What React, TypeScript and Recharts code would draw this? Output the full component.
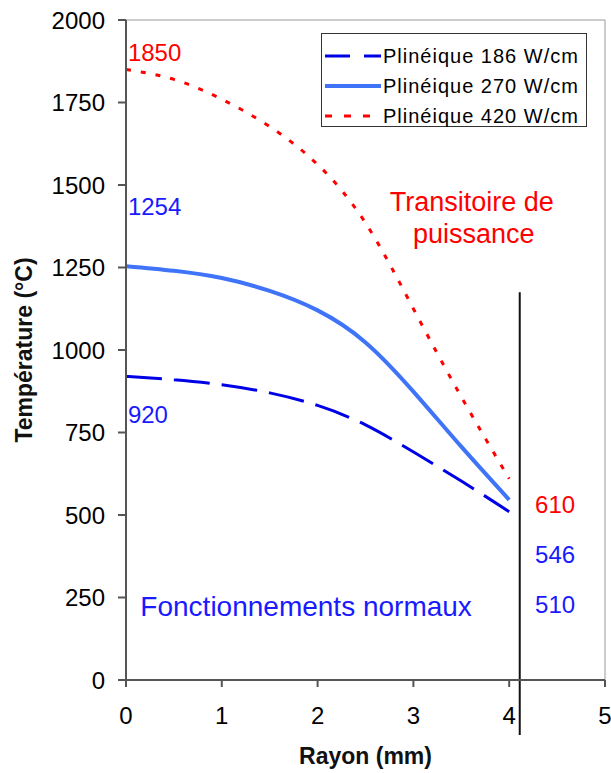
import { LineChart, Line, XAxis, YAxis, ReferenceLine, ReferenceDot } from 'recharts'

const rayon = [0, 0.5, 1, 1.5, 2, 2.5, 3, 3.5, 4]
const p186 = [920, 910, 895, 870, 832, 773, 691, 603, 510]
const p270 = [1254, 1240, 1218, 1179, 1120, 1023, 874, 707, 546]
const p420 = [1850, 1820, 1760, 1677, 1562, 1385, 1125, 858, 610]

const xTicks = [0, 1, 2, 3, 4, 5]
const yTicks = [0, 250, 500, 750, 1000, 1250, 1500, 1750, 2000]

// annotations: text + where it sits in data units
const notes = [
  { text: '1850', x: 0.02, y: 1876, color: '#ff0000', anchor: 'start', size: 24 },
  { text: '1254', x: 0.02, y: 1408, color: '#1a1aff', anchor: 'start', size: 24 },
  { text: '920', x: 0.02, y: 780, color: '#1a1aff', anchor: 'start', size: 24 },
  { text: 'Fonctionnements normaux', x: 0.15, y: 194, color: '#1a1aff', anchor: 'start', size: 28 },
  { text: 'Transitoire de', x: 3.61, y: 1420, color: '#ff0000', anchor: 'middle', size: 27 },
  { text: 'puissance', x: 3.63, y: 1323, color: '#ff0000', anchor: 'middle', size: 27 },
  { text: '610', x: 4.27, y: 507, color: '#ff0000', anchor: 'start', size: 24 },
  { text: '546', x: 4.27, y: 355, color: '#1a1aff', anchor: 'start', size: 24 },
  { text: '510', x: 4.27, y: 203, color: '#1a1aff', anchor: 'start', size: 24 },
]

const series = [
  { key: 'p186', name: 'Plinéique 186 W/cm', color: '#0000e6', width: 3, dash: '36 12', legendDash: '25 14' },
  { key: 'p270', name: 'Plinéique 270 W/cm', color: '#3f74f8', width: 4, dash: undefined, legendDash: undefined },
  { key: 'p420', name: 'Plinéique 420 W/cm', color: '#ff0000', width: 3, dash: '5 10', legendDash: '7 12' },
]

const data = rayon.map((r, i) => ({ r, p186: p186[i], p270: p270[i], p420: p420[i] }))

const FONT = '"Liberation Sans", Arial, sans-serif'

function LegendBox() {
  return (
    <div style={{ position: 'absolute', left: 321, top: 33, border: '1.5px solid #333', background: '#fff', width: 266, height: 94, boxSizing: 'border-box', padding: '7px 0 0 3px', fontFamily: FONT }}>
      {series.map((s) => (
        <div key={s.key} style={{ display: 'flex', alignItems: 'center', height: 30 }}>
          <svg width={56} height={10} style={{ display: 'block' }}>
            <line x1={0} y1={5} x2={56} y2={5} stroke={s.color} strokeWidth={s.width} strokeDasharray={s.legendDash} />
          </svg>
          <span style={{ fontSize: 20, letterSpacing: 1, color: '#000', marginLeft: 2 }}>{s.name}</span>
        </div>
      ))}
    </div>
  )
}

export default function App() {
  return (
    <div style={{ position: 'absolute', left: 0, top: 0, width: 611, height: 773, background: '#fff' }}>
      <LineChart width={611} height={773} data={data} margin={{ top: 20, right: 6, bottom: 0, left: 0 }} style={{ fontFamily: FONT }}>
        <XAxis
          dataKey="r"
          type="number"
          domain={[0, 5]}
          ticks={xTicks}
          height={93}
          stroke="#555"
          strokeWidth={2}
          tickSize={7}
          tickMargin={20}
          tick={{ fill: '#000', fontSize: 24 }}
          label={{
            content: ({ viewBox }: any) => (
              <text x={viewBox.x + viewBox.width / 2} y={764} textAnchor="middle" fontSize={23} fontWeight="bold" fill="#111">
                Rayon (mm)
              </text>
            ),
          }}
        />
        <YAxis
          type="number"
          domain={[0, 2000]}
          ticks={yTicks}
          width={126}
          stroke="#555"
          strokeWidth={2}
          tickSize={8}
          tickMargin={13}
          tick={{ fill: '#000', fontSize: 24 }}
          label={{
            content: ({ viewBox }: any) => {
              const cy = viewBox.y + viewBox.height / 2
              return (
                <text x={32} y={cy} transform={`rotate(-90, 32, ${cy})`} textAnchor="middle" fontSize={23} fontWeight="bold" fill="#111">
                  Température (°C)
                </text>
              )
            },
          }}
        />
        <ReferenceLine y={2000} stroke="#999" strokeWidth={1} />
        <ReferenceLine x={5} stroke="#999" strokeWidth={1} />
        <ReferenceLine
          segment={[{ x: 4.11, y: 1175 }, { x: 4.11, y: -167 }]}
          stroke="#111"
          strokeWidth={2}
          ifOverflow="visible"
        />
        {series.map((s) => (
          <Line
            key={s.key}
            dataKey={s.key}
            name={s.name}
            type="natural"
            stroke={s.color}
            strokeWidth={s.width}
            strokeDasharray={s.dash}
            dot={false}
            activeDot={false}
            isAnimationActive={false}
          />
        ))}
        {notes.map((n) => (
          <ReferenceDot
            key={n.text}
            x={n.x}
            y={n.y}
            r={1}
            fill="none"
            stroke="none"
            label={(p: any) => (
              <text x={p.viewBox.x + p.viewBox.width / 2} y={p.viewBox.y + p.viewBox.height / 2} textAnchor={n.anchor} fontSize={n.size} fill={n.color}>
                {n.text}
              </text>
            )}
          />
        ))}
      </LineChart>
      <LegendBox />
    </div>
  )
}
